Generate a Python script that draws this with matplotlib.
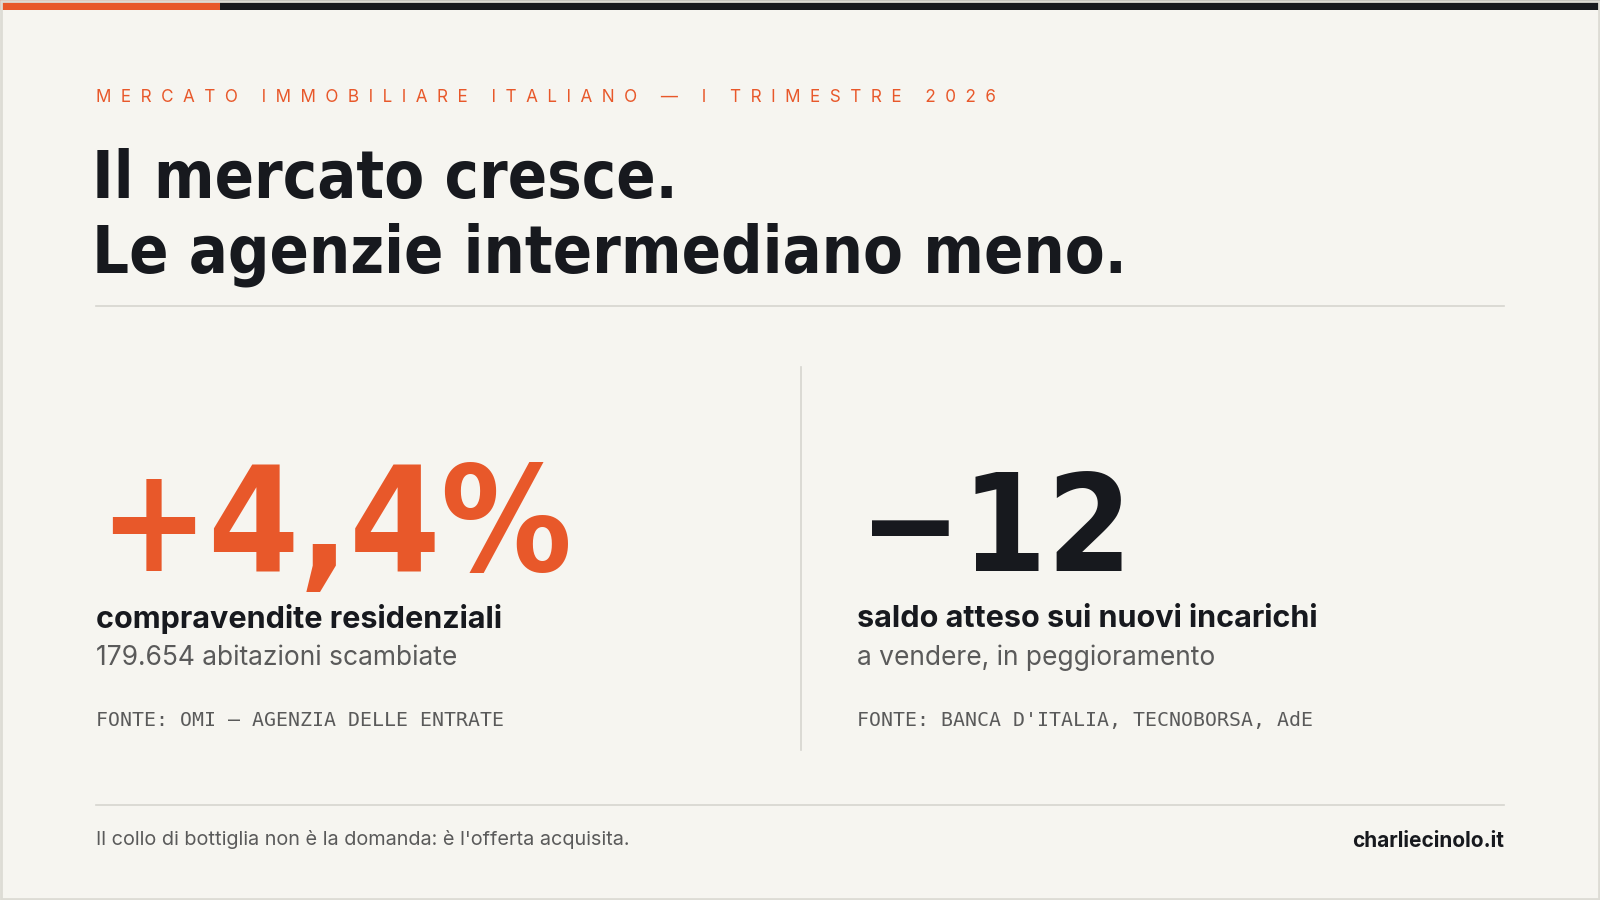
import matplotlib
matplotlib.use("Agg")
import matplotlib.pyplot as plt
from matplotlib.patches import Rectangle

kicker = "MERCATO IMMOBILIARE ITALIANO — I TRIMESTRE 2026"
title_lines = ["Il mercato cresce.", "Le agenzie intermediano meno."]
kpi_values = ["+4,4%", "−12"]
kpi_labels = ["compravendite residenziali", "saldo atteso sui nuovi incarichi"]
kpi_subs = ["179.654 abitazioni scambiate", "a vendere, in peggioramento"]
kpi_sources = ["FONTE: OMI — AGENZIA DELLE ENTRATE", "FONTE: BANCA D'ITALIA, TECNOBORSA, AdE"]
kpi_colors = ["#E8582A", "#17191E"]
footer_note = "Il collo di bottiglia non è la domanda: è l'offerta acquisita."
footer_brand = "charliecinolo.it"

W, H = 1568, 882
fig = plt.figure(figsize=(16, 9), dpi=100)
fig.patch.set_facecolor("#F6F5F0")
ax = fig.add_axes([0, 0, 1, 1])
ax.set_xlim(0, W); ax.set_ylim(H, 0); ax.axis("off")

ORANGE = "#E8582A"; DARK = "#17191E"; GREY = "#5A5A5A"
COND = ["DejaVu Sans"]
SANS = ["Inter", "DejaVu Sans"]
MONO = ["DejaVu Sans Mono"]

ax.add_patch(Rectangle((0, 0), 216, 10, color=ORANGE, lw=0))
ax.add_patch(Rectangle((216, 0), W - 216, 10, color=DARK, lw=0))
ax.add_patch(Rectangle((1, 1), W - 2, H - 2, fill=False, ec="#DDDCD5", lw=2))

ax.text(94, 96, "  ".join(kicker), color=ORANGE, fontsize=12.3,
        family=SANS, va="center", ha="left")
ax.text(90, 176, title_lines[0], color=DARK, fontsize=46.5, family=COND, weight="bold",
        fontstretch="condensed", va="center")
ax.text(90, 250, title_lines[1], color=DARK, fontsize=46.5, family=COND, weight="bold",
        fontstretch="condensed", va="center")
ax.plot([94, 1474], [300, 300], color="#D6D5CF", lw=1.2)
ax.plot([785, 785], [360, 735], color="#D6D5CF", lw=1.2)
ax.plot([94, 1474], [789, 789], color="#D6D5CF", lw=1.2)

xs = [96, 842]
sizes = [105, 98]
for i in range(2):
    ax.text(xs[i], 560, kpi_values[i], color=kpi_colors[i], fontsize=sizes[i], family=COND,
            weight="bold", fontstretch="condensed", va="baseline", ha="left")
    ax.text(xs[i] - 2, 607, kpi_labels[i], color=DARK, fontsize=22, family=SANS, weight="bold", va="center")
    ax.text(xs[i] - 2, 645, kpi_subs[i], color=GREY, fontsize=19, family=SANS, va="center")
    ax.text(xs[i] - 2, 706, kpi_sources[i], color=GREY, fontsize=14.3, family=MONO, va="center")

ax.text(94, 823, footer_note, color=GREY, fontsize=14.3, family=SANS, va="center")
ax.text(1474, 824, footer_brand, color=DARK, fontsize=15, family=SANS, weight="bold", va="center", ha="right")

fig.savefig("out.png", dpi=100, facecolor=fig.get_facecolor())
